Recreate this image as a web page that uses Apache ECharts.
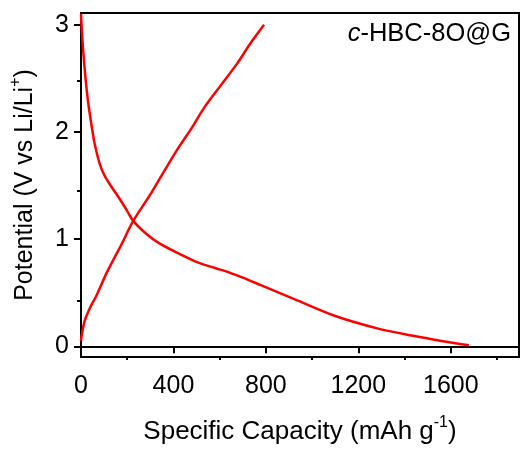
<!DOCTYPE html>
<html>
<head>
<meta charset="utf-8">
<script src="https://cdn.jsdelivr.net/npm/echarts@6/dist/echarts.min.js"></script>
<style>
  html, body { margin: 0; padding: 0; background: #fff; }
  #chart { width: 520px; height: 450px; }
</style>
</head>
<body>
<div id="chart"></div>
<script>
// discharge curve (capacity mAh/g, potential V)
var dischargeCap = [0, 5, 15, 29, 45, 60, 80, 100, 125, 160, 195, 226, 282, 339, 428, 508, 580, 640, 700, 778, 923, 1097, 1286, 1431, 1560, 1678];
var dischargeV = [3.1, 2.9, 2.61, 2.31, 2.07, 1.88, 1.71, 1.6, 1.51, 1.4, 1.28, 1.17, 1.05, 0.96, 0.86, 0.78, 0.73, 0.69, 0.64, 0.57, 0.44, 0.285, 0.165, 0.1, 0.05, 0.01];
// charge curve
var chargeCap = [0, 3, 15, 37, 66, 110, 153, 175, 226, 298, 356, 415, 480, 531, 603, 676, 734, 792];
var chargeV = [0.05, 0.1, 0.23, 0.35, 0.47, 0.68, 0.86, 0.95, 1.17, 1.41, 1.62, 1.83, 2.04, 2.22, 2.43, 2.64, 2.83, 3.0];

var xTicks = [0, 400, 800, 1200, 1600];
var xMinor = [200, 600, 1000, 1400, 1800];
var yTicks = [0, 1, 2, 3];
var yMinor = [0.5, 1.5, 2.5];

function pairs(xs, ys) {
  return xs.map(function (x, i) { return [x, ys[i]]; });
}

var chart = echarts.init(document.getElementById('chart'));
var font = 'Liberation Sans, Arial, sans-serif';
var box = { left: 81, right: 1, top: 13, bottom: 83 };

function titleRich(size) {
  return {
    t: { fontSize: size, fontFamily: font, color: '#000', lineHeight: 30, verticalAlign: 'bottom' },
    s: { fontSize: 16, fontFamily: font, color: '#000', lineHeight: 30, verticalAlign: 'top' }
  };
}

var option = {
  animation: false,
  grid: [
    { left: box.left, right: box.right, top: box.top, bottom: box.bottom,
      show: true, borderColor: '#000', borderWidth: 2, containLabel: false },
    // second grid, same place, only for minor ticks
    { left: box.left, right: box.right, top: box.top, bottom: box.bottom, containLabel: false }
  ],
  xAxis: [{
    type: 'value', min: 0, max: 1895, gridIndex: 0,
    axisLine: { lineStyle: { color: '#000', width: 2 } },
    axisTick: { customValues: xTicks, length: 7, lineStyle: { color: '#000', width: 2 } },
    axisLabel: { customValues: xTicks, color: '#000', fontSize: 25, fontFamily: font, margin: 17,
      formatter: function (v) { return String(v); } },
    splitLine: { show: false },
    name: '{t|Specific Capacity (mAh g}{s|-1}{t|)}',
    nameLocation: 'middle',
    nameGap: 58,
    nameTextStyle: { rich: titleRich(26) }
  }, {
    type: 'value', min: 0, max: 1895, gridIndex: 1, position: 'bottom',
    axisLine: { show: false },
    axisTick: { customValues: xMinor, length: 4, lineStyle: { color: '#000', width: 2 } },
    axisLabel: { show: false },
    splitLine: { show: false }
  }],
  yAxis: [{
    type: 'value', min: -0.1, max: 3.11, gridIndex: 0,
    axisLine: { lineStyle: { color: '#000', width: 2 } },
    axisTick: { customValues: yTicks, length: 7, lineStyle: { color: '#000', width: 2 } },
    axisLabel: { customValues: yTicks, color: '#000', fontSize: 25, fontFamily: font, margin: 12 },
    splitLine: { show: false },
    name: '{t|Potential (V vs Li/Li}{s|+}{t|)}',
    nameLocation: 'middle',
    nameRotate: 90,
    nameGap: 43,
    nameTextStyle: { rich: titleRich(25) }
  }, {
    type: 'value', min: -0.1, max: 3.11, gridIndex: 1, position: 'left',
    axisLine: { show: false },
    axisTick: { customValues: yMinor, length: 4, lineStyle: { color: '#000', width: 2 } },
    axisLabel: { show: false },
    splitLine: { show: false }
  }],
  graphic: [{
    type: 'text',
    right: 9, top: 21,
    style: {
      text: '{i|c}{n|-HBC-8O@G}',
      rich: {
        i: { fontSize: 25.5, fontFamily: font, fontStyle: 'italic', fill: '#000' },
        n: { fontSize: 25.5, fontFamily: font, fill: '#000' }
      }
    }
  }],
  series: [{
    type: 'line',
    xAxisIndex: 0, yAxisIndex: 0,
    data: pairs(dischargeCap, dischargeV),
    showSymbol: false,
    smooth: 0.3,
    lineStyle: { color: '#ff0000', width: 2.5 }
  }, {
    type: 'line',
    xAxisIndex: 0, yAxisIndex: 0,
    data: pairs(chargeCap, chargeV),
    showSymbol: false,
    smooth: 0.3,
    lineStyle: { color: '#ff0000', width: 2.5 }
  }]
};

chart.setOption(option);
</script>
</body>
</html>
